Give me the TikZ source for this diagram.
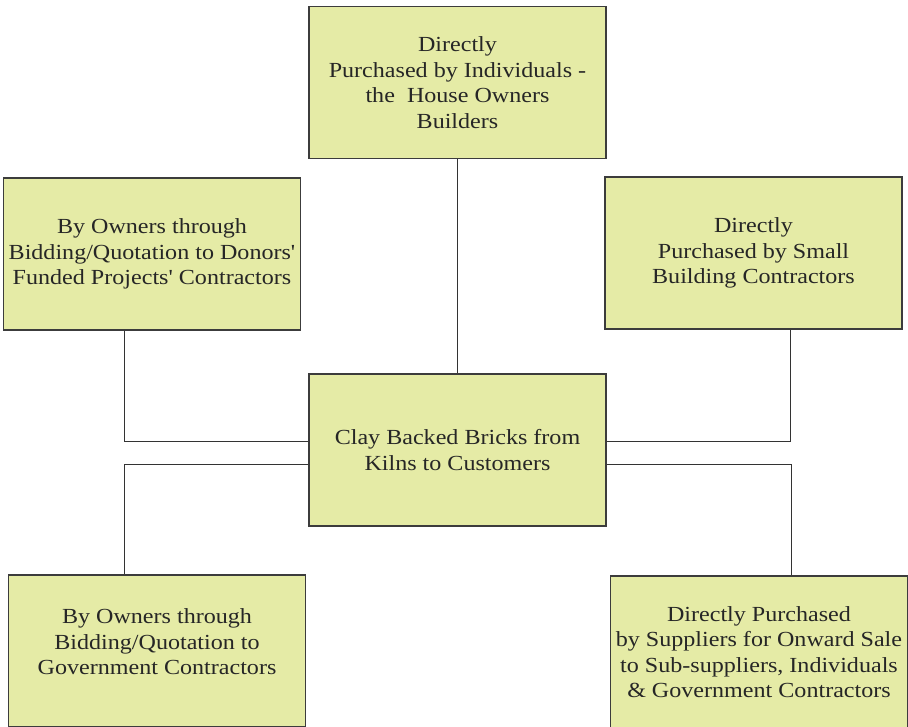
\documentclass[tikz,border=0pt]{standalone}
\usepackage{fontspec}
\newfontfamily\kilnfont{Liberation Serif}[FakeStretch=1.12]
\definecolor{boxfill}{RGB}{229,235,166}
\definecolor{boxline}{RGB}{60,60,60}
\newcommand{\apos}{{\char"27}}
\begin{document}
\begin{tikzpicture}[x=1pt,y=-1pt,
    kilnbox/.style={draw=boxline,line width=1.1pt,fill=boxfill,minimum width=297pt,
      minimum height=152pt,align=center,inner sep=0pt,font=\kilnfont\fontsize{21.5}{25.5}\selectfont,text=black!85},
    link/.style={draw=black!80,line width=1pt}]
        \useasboundingbox (0,0) rectangle (908,726);
        \node[kilnbox] (ctr) at (457.5,450) {Clay Backed Bricks from\\Kilns to Customers};
        \node[kilnbox] (top) at (457.5,82.5) {Directly\\Purchased by Individuals -\\the\ \ House Owners\\Builders};
        \node[kilnbox] (lft) at (152,254) {By Owners through\\Bidding/Quotation to Donors\apos\\Funded Projects\apos{} Contractors};
        \node[kilnbox] (rgt) at (753.5,253) {Directly\\Purchased by Small\\Building Contractors};
        \node[kilnbox,text depth=18pt] (bl) at (157,651) {By Owners through\\Bidding/Quotation to\\Government Contractors};
        \node[kilnbox] (br) at (759,652) {Directly Purchased\\by Suppliers for Onward Sale\\to Sub-suppliers, Individuals\\\& Government Contractors};
        \draw[link] (top.south) -- (ctr.north);
        \draw[link] ([xshift=-28pt]lft.south) |- ([yshift=9pt]ctr.west);
        \draw[link] ([xshift=37pt]rgt.south) |- ([yshift=9pt]ctr.east);
        \draw[link] ([yshift=-14pt]ctr.west) -| ([xshift=-33pt]bl.north);
        \draw[link] ([yshift=-14pt]ctr.east) -| ([xshift=32pt]br.north);
      \end{tikzpicture}
\end{document}
